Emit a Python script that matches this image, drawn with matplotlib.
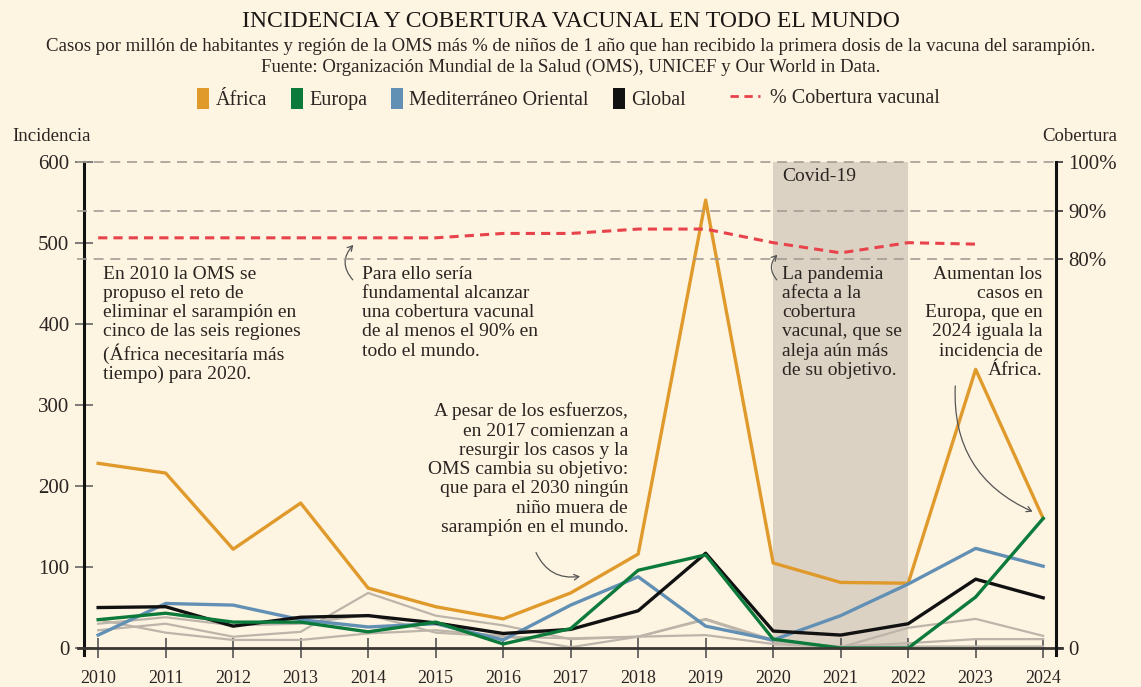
import matplotlib.pyplot as plt
from matplotlib.patches import Patch
from matplotlib.lines import Line2D

# datos (casos por millón de habitantes)
years = list(range(2010, 2025))
africa = [228, 216, 122, 179, 74, 51, 36, 68, 116, 553, 105, 81, 80, 344, 160]
europa = [35, 43, 32, 32, 20, 32, 5, 24, 96, 115, 11, 0, 0, 63, 160]
mediterraneo = [16, 55, 53, 35, 26, 30, 10, 53, 88, 27, 10, 40, 79, 123, 101]
global_ = [50, 51, 27, 38, 40, 31, 18, 23, 46, 117, 21, 16, 30, 85, 62]
# resto de regiones (en gris)
otras_1 = [22, 30, 14, 20, 68, 40, 28, 11, 14, 36, 10, 1, 25, 36, 15]
otras_2 = [35, 19, 10, 10, 18, 22, 15, 1, 14, 35, 8, 2, 6, 11, 11]
otras_3 = [30, 38, 28, 30, 41, 19, 14, 12, 14, 16, 5, 1, 2, 2, 2]

# % cobertura vacunal (primera dosis)
cob_years = list(range(2010, 2024))
cobertura = [84.4, 84.4, 84.4, 84.4, 84.4, 84.4, 85.3, 85.3, 86.2, 86.2, 83.4, 81.3, 83.4, 83.1]

BG = '#fef4e2'
TXT = '#2b2522'
C_AFR = '#e09a2c'
C_EUR = '#0b7a3b'
C_MED = '#6290b5'
C_GLO = '#111111'
C_GRIS = '#bdb5aa'
C_COB = '#e8424b'

plt.rcParams['font.family'] = ['Liberation Serif', 'DejaVu Serif']

fig = plt.figure(figsize=(11.41, 6.87), dpi=100, facecolor=BG)
ax = fig.add_axes([0.0736, 0.0461, 0.8519, 0.7181])
ax.set_facecolor(BG)
ax2 = ax.twinx()

ax.set_xlim(2009.79, 2024.19)
ax.set_ylim(-9, 600)
ax2.set_ylim(-1.5, 100)

# periodo covid
ax.axvspan(2020, 2022, ymin=9 / 609, ymax=1, color='#dcd2c3', zorder=0, lw=0)
ax.text(2020.13, 592, 'Covid-19', fontsize=14, color=TXT, va='top', ha='left')

# lineas de referencia de cobertura
for v in [80, 90, 100]:
    ax2.axhline(v, xmin=-0.007, xmax=1, color='#a39d94', lw=1.2,
                dashes=(6, 4), clip_on=False, zorder=1)

for serie in [otras_1, otras_2, otras_3]:
    ax.plot(years, serie, color=C_GRIS, lw=1.6, zorder=2)
ax.plot(years, africa, color=C_AFR, lw=2.4, zorder=3)
ax.plot(years, mediterraneo, color=C_MED, lw=2.4, zorder=3)
ax.plot(years, global_, color=C_GLO, lw=2.4, zorder=4)
ax.plot(years, europa, color=C_EUR, lw=2.4, zorder=5)

ax2.plot(cob_years, cobertura, color=C_COB, lw=2.2, dashes=(3, 2), zorder=5)

# ejes
for s in ['top', 'right']:
    ax.spines[s].set_visible(False)
ax.spines['bottom'].set_position(('data', 0))
ax.spines['bottom'].set_bounds(2009.7, 2024.28)
ax.spines['bottom'].set_color('#3a3633')
ax.spines['bottom'].set_linewidth(2)
ax.spines['bottom'].set_zorder(6)
ax.spines['left'].set_linewidth(2.2)
ax.spines['left'].set_color('#111111')
for s in ['top', 'left', 'bottom']:
    ax2.spines[s].set_visible(False)
ax2.spines['right'].set_linewidth(2.2)
ax2.spines['right'].set_color('#111111')

ax.set_xticks(years)
ax.set_xticklabels([str(y) for y in years])
ax.set_yticks([0, 100, 200, 300, 400, 500, 600])
ax.tick_params(axis='x', direction='inout', length=14, width=1.2, color='#555',
               labelsize=13, labelcolor=TXT, pad=9)
ax.tick_params(axis='y', direction='inout', length=13, width=1.2, color='#666',
               labelsize=15, labelcolor=TXT, pad=4)
ax2.set_yticks([0, 80, 90, 100])
ax2.set_yticklabels(['0', '80%', '90%', '100%'])
ax2.tick_params(axis='y', direction='out', length=5, width=1.2, color='#333',
                labelsize=15, labelcolor=TXT, pad=4)

fig.text(0.0456, 0.8006, 'Incidencia', fontsize=13.5, color=TXT, ha='center', va='center')
fig.text(0.9465, 0.8006, 'Cobertura', fontsize=13.5, color=TXT, ha='center', va='center')

# anotaciones
kw = dict(fontsize=14, color=TXT, va='top', linespacing=1.17)
ax.text(2010.07, 472, 'En 2010 la OMS se\npropuso el reto de\neliminar el sarampión en\n'
        'cinco de las seis regiones\n(África necesitaría más\ntiempo) para 2020.', ha='left', **kw)
ax.text(2013.91, 472, 'Para ello sería\nfundamental alcanzar\nuna cobertura vacunal\n'
        'de al menos el 90% en\ntodo el mundo.', ha='left', **kw)
ax.text(2020.13, 472, 'La pandemia\nafecta a la\ncobertura\nvacunal, que se\n'
        'aleja aún más\nde su objetivo.', ha='left', **kw)
ax.text(2023.99, 472, 'Aumentan los\ncasos en\nEuropa, que en\n2024 iguala la\n'
        'incidencia de\nÁfrica.', ha='right', **kw)
ax.text(2017.85, 303, 'A pesar de los esfuerzos,\nen 2017 comienzan a\nresurgir los casos y la\n'
        'OMS cambia su objetivo:\nque para el 2030 ningún\nniño muera de\n'
        'sarampión en el mundo.', ha='right', **kw)

akw = dict(arrowstyle='->,head_length=0.35,head_width=0.2', color='#555', lw=0.9)
ax.annotate('', xy=(2013.81, 500), xytext=(2013.80, 452),
            arrowprops=dict(connectionstyle='arc3,rad=-0.5', **akw))
ax.annotate('', xy=(2020.09, 488), xytext=(2020.08, 452),
            arrowprops=dict(connectionstyle='arc3,rad=-0.5', **akw))
ax.annotate('', xy=(2017.18, 89), xytext=(2016.47, 121),
            arrowprops=dict(connectionstyle='arc3,rad=0.4', **akw))
ax.annotate('', xy=(2023.88, 167), xytext=(2022.70, 327),
            arrowprops=dict(connectionstyle='arc3,rad=0.35', **akw))

# titulos
fig.text(0.5, 0.968, 'INCIDENCIA Y COBERTURA VACUNAL EN TODO EL MUNDO', fontsize=17,
         color='#1a1614', ha='center', va='center')
fig.text(0.5, 0.9316, 'Casos por millón de habitantes y región de la OMS más % de niños de 1 año '
         'que han recibido la primera dosis de la vacuna del sarampión.', fontsize=13.6,
         color=TXT, ha='center', va='center')
fig.text(0.5, 0.9025, 'Fuente: Organización Mundial de la Salud (OMS), UNICEF y Our World in Data.',
         fontsize=13.6, color=TXT, ha='center', va='center')

# leyenda
handles = [Patch(facecolor=C_AFR), Patch(facecolor=C_EUR), Patch(facecolor=C_MED),
           Patch(facecolor=C_GLO)]
labels = ['África', 'Europa', 'Mediterráneo Oriental', 'Global']
fig.legend(handles, labels, loc='center', bbox_to_anchor=(0.387, 0.856), ncol=4,
           frameon=False, fontsize=14.5, handlelength=0.6, handleheight=1.2,
           handletextpad=0.3, columnspacing=1.2, labelcolor=TXT)
fig.legend([Line2D([0], [0], color=C_COB, lw=2, dashes=(3, 2))], ['% Cobertura vacunal'],
           loc='center', bbox_to_anchor=(0.732, 0.856), frameon=False, fontsize=14.5,
           handlelength=1.5, handletextpad=0.5, labelcolor=TXT)

fig.savefig('out.png', dpi=100, facecolor=BG)
